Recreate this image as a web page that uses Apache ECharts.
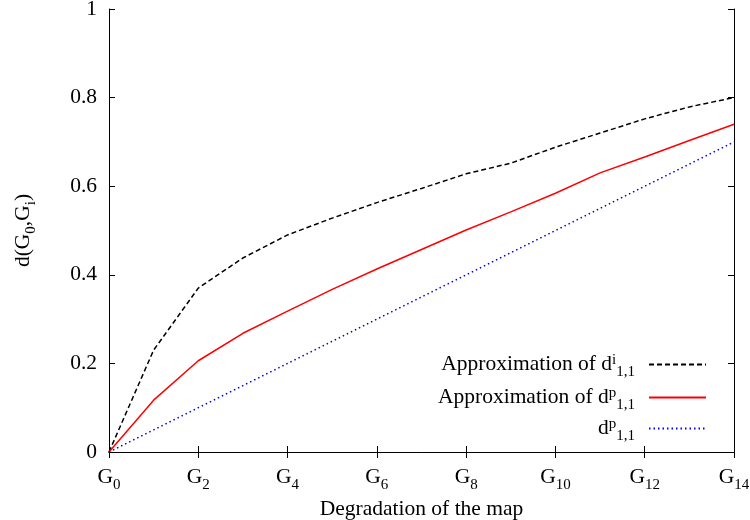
<!DOCTYPE html>
<html><head><meta charset="utf-8">
<script src="https://cdn.jsdelivr.net/npm/echarts@6/dist/echarts.min.js"></script>
<style>html,body{margin:0;padding:0;background:#fff}#c{width:750px;height:520px}</style>
</head><body><div id="c"></div>
<script>
var categories = ['0','1','2','3','4','5','6','7','8','9','10','11','12','13','14'];
var approxI = [0, 0.23, 0.37, 0.438, 0.49, 0.528, 0.563, 0.595, 0.628, 0.652, 0.688, 0.72, 0.752, 0.779, 0.80];
var approxP = [0, 0.117, 0.206, 0.268, 0.318, 0.367, 0.413, 0.457, 0.501, 0.542, 0.584, 0.63, 0.666, 0.703, 0.74];
var exactP = [0, 0.05, 0.10, 0.15, 0.20, 0.25, 0.30, 0.35, 0.40, 0.45, 0.50, 0.55, 0.60, 0.65, 0.70];
var seriesNames = ['Approximation of d^i_1,1', 'Approximation of d^p_1,1', 'd^p_1,1'];
var legendLabels = {
  'Approximation of d^i_1,1': 'Approximation of d{sup|i}{sub|1,1}',
  'Approximation of d^p_1,1': 'Approximation of d{sup|p}{sub|1,1}',
  'd^p_1,1': 'd{sup|p}{sub|1,1}'
};
var FONT = 'Liberation Serif';
var FS = 21.5, SFS = 15;
var chart = echarts.init(document.getElementById('c'));
var axisLine = {show:true, lineStyle:{color:'#000', width:1}};
var tick = {show:true, inside:true, length:6, lineStyle:{color:'#000'}};
var legendText = {fontFamily:FONT, fontSize:FS, color:'#000',
  rich:{sup:{fontSize:SFS, fontFamily:FONT, color:'#000', padding:[0,0,8,0]},
        sub:{fontSize:SFS, fontFamily:FONT, color:'#000', padding:[16,9,0,0]}}};
function mkLegend(i, top){
  return {orient:'vertical', right:38, top:top, align:'right',
    itemWidth:57, itemHeight:12, itemGap:0,
    itemStyle:{opacity:0},
    data:[seriesNames[i]],
    formatter:function(n){return legendLabels[n];},
    textStyle:legendText};
}
chart.setOption({
  animation:false,
  backgroundColor:'#fff',
  grid:{left:109, right:16, top:9, bottom:68, outerBoundsMode:'none', containLabel:false},
  legend:[mkLegend(0,348), mkLegend(1,381), mkLegend(2,412)],
  xAxis:[{
    type:'category', data:categories, boundaryGap:false,
    name:'Degradation of the map', nameLocation:'middle', nameGap:37,
    nameTextStyle:{fontFamily:FONT, fontSize:FS, color:'#000'},
    axisLine:axisLine, axisTick:Object.assign({interval:1}, tick),
    axisLabel:{interval:1, margin:10, color:'#000', fontFamily:FONT, fontSize:FS,
      formatter:function(v){return 'G{s|'+v+'}';},
      rich:{s:{fontSize:SFS, fontFamily:FONT, color:'#000', padding:[16,0,0,0]}}},
    splitLine:{show:false}
  },{
    type:'category', data:categories, boundaryGap:false, position:'top',
    axisLine:axisLine, axisTick:Object.assign({interval:1}, tick),
    axisLabel:{show:false}, splitLine:{show:false}
  }],
  yAxis:[{
    type:'value', min:0, max:1, interval:0.2,
    name:'d(G{s|0},G{s|i})', nameLocation:'middle', nameGap:70, nameRotate:90,
    nameTextStyle:{fontFamily:FONT, fontSize:FS, color:'#000',
      rich:{s:{fontSize:SFS, fontFamily:FONT, color:'#000', padding:[16,0,0,0]}}},
    axisLine:axisLine, axisTick:tick,
    axisLabel:{color:'#000', fontFamily:FONT, fontSize:FS, margin:12},
    splitLine:{show:false}
  },{
    type:'value', min:0, max:1, interval:0.2, position:'right',
    axisLine:axisLine, axisTick:tick, axisLabel:{show:false}, splitLine:{show:false}
  }],
  series:[
    {name:seriesNames[0], type:'line', data:approxI, symbol:'none',
      lineStyle:{color:'#000', width:1.5, type:[5,3]}, itemStyle:{color:'#000'}},
    {name:seriesNames[1], type:'line', data:approxP, symbol:'none',
      lineStyle:{color:'#ff0000', width:1.5}, itemStyle:{color:'#ff0000'}},
    {name:seriesNames[2], type:'line', data:exactP, symbol:'none',
      lineStyle:{color:'#0000ff', width:1.5, type:[1.5,3]}, itemStyle:{color:'#0000ff'}}
  ]
});
</script></body></html>
